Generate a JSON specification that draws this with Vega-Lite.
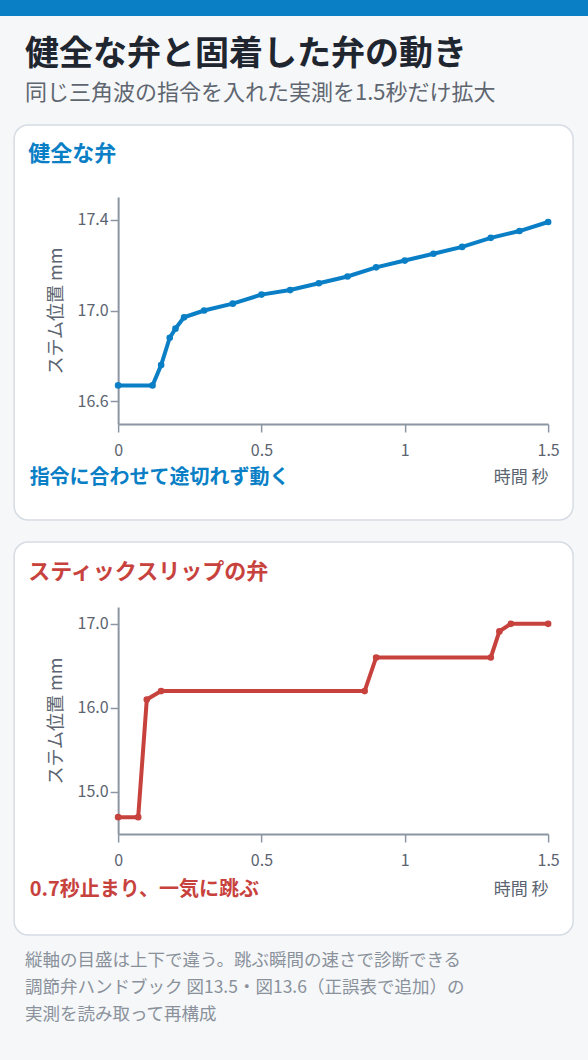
{
  "$schema": "https://vega.github.io/schema/vega-lite/v6.json",
  "description": "健全な弁とスティックスリップの弁のステム位置、1.5秒分",
  "background": "#f5f7f9",
  "padding": {"left": 0, "right": 0, "top": 0, "bottom": 38},
  "title": {
    "text": [
      "縦軸の目盛は上下で違う。跳ぶ瞬間の速さで診断できる",
      "調節弁ハンドブック 図13.5・図13.6（正誤表で追加）の",
      "実測を読み取って再構成"
    ],
    "orient": "bottom",
    "anchor": "start",
    "frame": "group",
    "dx": 25,
    "offset": 16,
    "fontSize": 17.5,
    "lineHeight": 27,
    "fontWeight": "normal",
    "color": "#8a919b"
  },
  "spacing": 20,
  "center": true,
  "vconcat": [
    {
      "width": 588,
      "height": 16,
      "view": {"fill": "#0a7fc6", "stroke": null, "cornerRadius": 0},
      "title": {
        "text": "健全な弁と固着した弁の動き",
        "subtitle": "同じ三角波の指令を入れた実測を1.5秒だけ拡大",
        "orient": "bottom",
        "anchor": "start",
        "frame": "group",
        "dx": 25,
        "offset": 22,
        "fontSize": 34,
        "fontWeight": "bold",
        "color": "#1f2630",
        "subtitleFontSize": 22,
        "subtitleColor": "#5f6670",
        "subtitlePadding": 11
      },
      "data": {"values": []},
      "mark": {"type": "point", "opacity": 0},
      "encoding": {}
    },
    {
      "width": 559,
      "height": 395,
      "view": {"fill": "#ffffff", "stroke": "#d6dce3", "strokeWidth": 1.5, "cornerRadius": 14},
      "title": {
        "text": "健全な弁",
        "orient": "top",
        "anchor": "start",
        "frame": "group",
        "offset": -41,
        "dx": 14,
        "fontSize": 22,
        "fontWeight": "bold",
        "color": "#0a7fc6"
      },
      "data": {
        "values": [
          {"t": 0, "v": 16.67},
          {"t": 0.12, "v": 16.67},
          {"t": 0.15, "v": 16.76},
          {"t": 0.18, "v": 16.88},
          {"t": 0.2, "v": 16.92},
          {"t": 0.23, "v": 16.97},
          {"t": 0.3, "v": 17.0},
          {"t": 0.4, "v": 17.03},
          {"t": 0.5, "v": 17.07},
          {"t": 0.6, "v": 17.09},
          {"t": 0.7, "v": 17.12},
          {"t": 0.8, "v": 17.15},
          {"t": 0.9, "v": 17.19},
          {"t": 1.0, "v": 17.22},
          {"t": 1.1, "v": 17.25},
          {"t": 1.2, "v": 17.28},
          {"t": 1.3, "v": 17.32},
          {"t": 1.4, "v": 17.35},
          {"t": 1.5, "v": 17.39}
        ]
      },
      "layer": [
        {
          "mark": {"type": "line", "color": "#0a7fc6", "strokeWidth": 4},
          "encoding": {
            "x": {
              "field": "t",
              "type": "quantitative",
              "scale": {"domain": [0, 1.5], "range": [104, 534], "nice": false, "zero": false},
              "axis": {
                "orient": "bottom",
                "offset": -96,
                "values": [0, 0.5, 1, 1.5],
                "format": "~g",
                "title": "時間 秒",
                "titleX": 534,
                "titleY": 53,
                "titleAlign": "right",
                "titleBaseline": "middle"
              }
            },
            "y": {
              "field": "v",
              "type": "quantitative",
              "scale": {"domain": [16.5, 17.5], "range": [299, 72], "nice": false, "zero": false},
              "axis": {
                "offset": -104,
                "values": [16.6, 17.0, 17.4],
                "format": ".1f",
                "title": "ステム位置 mm"
              }
            }
          }
        },
        {
          "mark": {"type": "point", "filled": true, "size": 44, "color": "#0a7fc6", "opacity": 1},
          "encoding": {
            "x": {
              "field": "t",
              "type": "quantitative",
              "scale": {"domain": [0, 1.5], "range": [104, 534], "nice": false, "zero": false},
              "axis": {
                "orient": "bottom",
                "offset": -96,
                "domain": false,
                "ticks": false,
                "labels": false,
                "title": "指令に合わせて途切れず動く",
                "titleX": 15,
                "titleY": 53,
                "titleAlign": "left",
                "titleBaseline": "middle",
                "titleFontSize": 20,
                "titleFontWeight": "bold",
                "titleColor": "#0a7fc6"
              }
            },
            "y": {"field": "v", "type": "quantitative"}
          }
        }
      ],
      "resolve": {"scale": {"x": "independent"}}
    },
    {
      "width": 559,
      "height": 393,
      "view": {"fill": "#ffffff", "stroke": "#d6dce3", "strokeWidth": 1.5, "cornerRadius": 14},
      "title": {
        "text": "スティックスリップの弁",
        "orient": "top",
        "anchor": "start",
        "frame": "group",
        "offset": -42,
        "dx": 14,
        "fontSize": 22,
        "fontWeight": "bold",
        "color": "#c8423d"
      },
      "data": {
        "values": [
          {"t": 0, "v": 14.7},
          {"t": 0.07, "v": 14.7},
          {"t": 0.1, "v": 16.1},
          {"t": 0.15, "v": 16.2},
          {"t": 0.86, "v": 16.2},
          {"t": 0.9, "v": 16.6},
          {"t": 1.3, "v": 16.6},
          {"t": 1.33, "v": 16.91},
          {"t": 1.37, "v": 17.0},
          {"t": 1.5, "v": 17.0}
        ]
      },
      "layer": [
        {
          "mark": {"type": "line", "color": "#c8423d", "strokeWidth": 4},
          "encoding": {
            "x": {
              "field": "t",
              "type": "quantitative",
              "scale": {"domain": [0, 1.5], "range": [104, 534], "nice": false, "zero": false},
              "axis": {
                "orient": "bottom",
                "offset": -101,
                "values": [0, 0.5, 1, 1.5],
                "format": "~g",
                "title": "時間 秒",
                "titleX": 534,
                "titleY": 55,
                "titleAlign": "right",
                "titleBaseline": "middle"
              }
            },
            "y": {
              "field": "v",
              "type": "quantitative",
              "scale": {"domain": [14.5, 17.2], "range": [292, 65], "nice": false, "zero": false},
              "axis": {
                "offset": -104,
                "values": [15.0, 16.0, 17.0],
                "format": ".1f",
                "title": "ステム位置 mm"
              }
            }
          }
        },
        {
          "mark": {"type": "point", "filled": true, "size": 44, "color": "#c8423d", "opacity": 1},
          "encoding": {
            "x": {
              "field": "t",
              "type": "quantitative",
              "scale": {"domain": [0, 1.5], "range": [104, 534], "nice": false, "zero": false},
              "axis": {
                "orient": "bottom",
                "offset": -101,
                "domain": false,
                "ticks": false,
                "labels": false,
                "title": "0.7秒止まり、一気に跳ぶ",
                "titleX": 15,
                "titleY": 55,
                "titleAlign": "left",
                "titleBaseline": "middle",
                "titleFontSize": 20,
                "titleFontWeight": "bold",
                "titleColor": "#c8423d"
              }
            },
            "y": {"field": "v", "type": "quantitative"}
          }
        }
      ],
      "resolve": {"scale": {"x": "independent"}}
    }
  ],
  "config": {
    "font": "Noto Sans CJK JP",
    "axis": {
      "grid": false,
      "labelFlush": false,
      "domainColor": "#8c96a3",
      "domainWidth": 2,
      "tickColor": "#8c96a3",
      "tickWidth": 1.5,
      "tickSize": 8,
      "labelFontSize": 16,
      "labelColor": "#5b6470",
      "titleFontSize": 17,
      "titleFontWeight": "normal",
      "titleColor": "#5b6470"
    },
    "axisX": {"labelPadding": 10},
    "axisY": {"labelPadding": 2, "titlePadding": 12, "titleFontSize": 18}
  }
}
